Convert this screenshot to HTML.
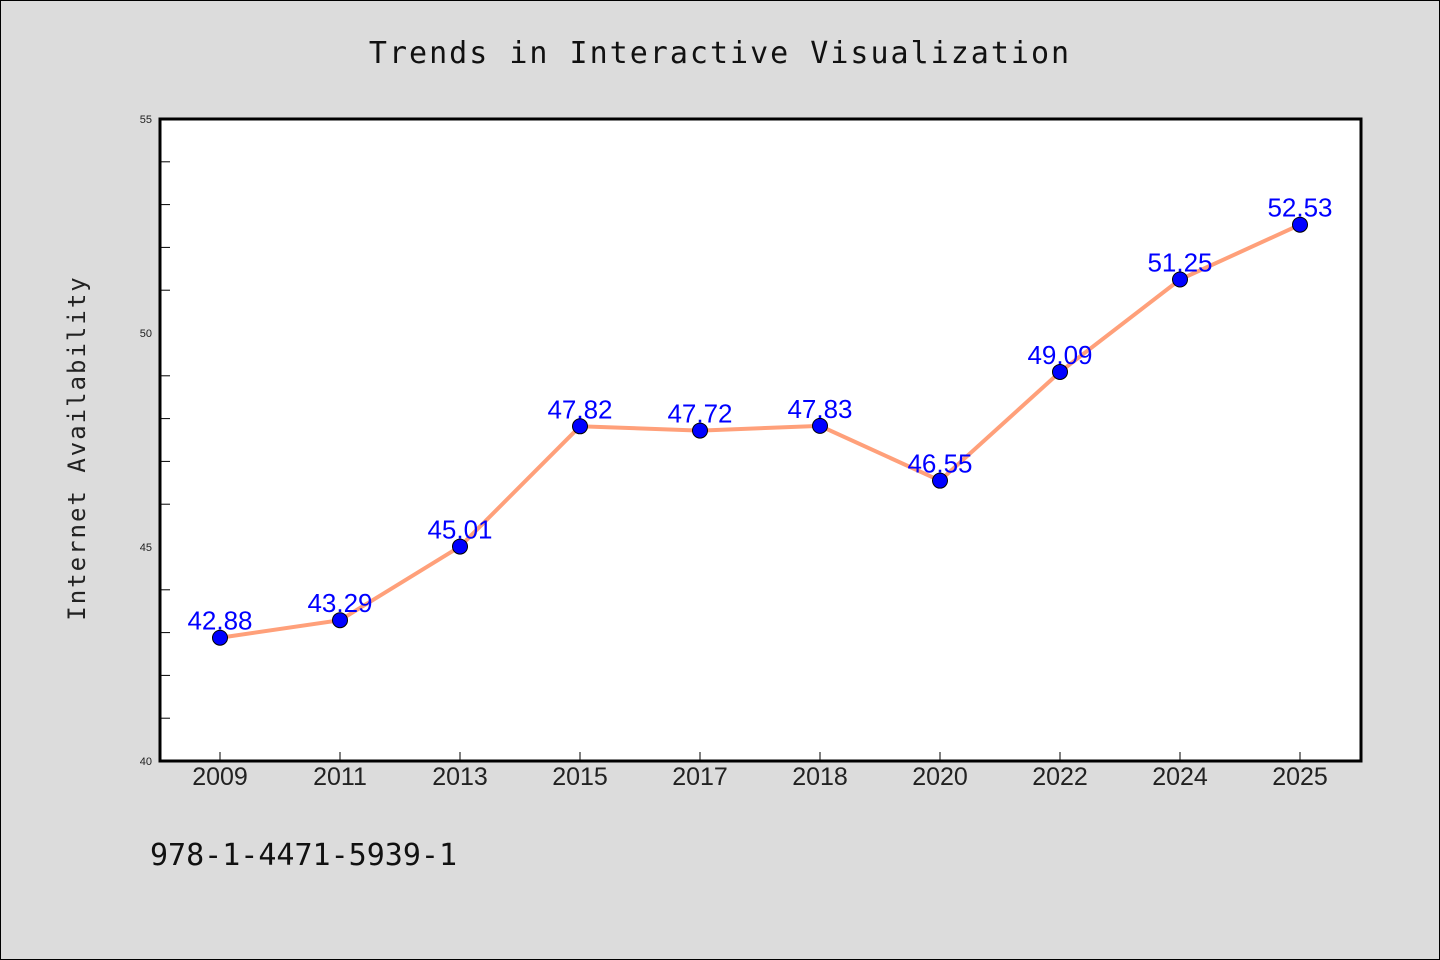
<!DOCTYPE html>
<html><head><meta charset="utf-8"><style>
body{margin:0;background:#dcdcdc}
svg{display:block;font-family:"Liberation Sans","DejaVu Sans",sans-serif}
</style></head><body>
<svg width="1440" height="960" viewBox="0 0 1440 960">
<rect x="0.5" y="0.5" width="1439" height="959" fill="#dcdcdc" stroke="#000"/>
<text x="720" y="63" text-anchor="middle" font-size="30" letter-spacing="2" font-family="DejaVu Sans Mono, monospace" fill="#111">Trends in Interactive Visualization</text>
<rect x="160" y="119" width="1201" height="642" fill="#fff"/>
<g id="ticks"></g>
<g id="series"></g>
<rect x="160" y="119" width="1201" height="642" fill="none" stroke="#000" stroke-width="3"/>
<text transform="translate(85,448) rotate(-90)" text-anchor="middle" font-size="24" letter-spacing="2" font-family="DejaVu Sans Mono, monospace" fill="#222">Internet Availability</text>
<text x="150" y="865" font-size="30" fill="#111" font-family="DejaVu Sans Mono, monospace">978-1-4471-5939-1</text>
</svg>
<script>
const categories=["2009","2011","2013","2015","2017","2018","2020","2022","2024","2025"];
const values=[42.88,43.29,45.01,47.82,47.72,47.83,46.55,49.09,51.25,52.53];
const yTickLabels=[40,45,50,55];
const NS="http://www.w3.org/2000/svg";
const x=i=>220+i*120;
const y=v=>761-(v-40)*(642/15);
function mk(t,a,p){const e=document.createElementNS(NS,t);for(const k in a)e.setAttribute(k,a[k]);p.appendChild(e);return e;}
const tg=document.getElementById('ticks'),sg=document.getElementById('series');
for(let v=41;v<55;v++){if(v%5===0)continue;
 const t=mk('line',{x1:160,x2:170,y1:y(v),y2:y(v),stroke:'#000','stroke-width':1},tg);
 
 }
yTickLabels.forEach(v=>{
 const t=mk('text',{x:152,y:y(v)+4,'text-anchor':'end','font-size':11,fill:'#222'},tg);t.textContent=v;
 
 });
categories.forEach((c,i)=>{
 const l=mk('line',{x1:x(i),x2:x(i),y1:752,y2:761,stroke:'#000'},tg);
 
 
 const t=mk('text',{x:x(i),y:785,'text-anchor':'middle','font-size':25,fill:'#222'},tg);t.textContent=c;
 
 });
const line=mk('polyline',{points:values.map((v,i)=>x(i)+','+y(v)).join(' '),fill:'none',stroke:'#ffa07a','stroke-width':4},sg);


values.forEach((v,i)=>{
 const c=mk('circle',{cx:x(i),cy:y(v),r:7.5,fill:'#0000ff',stroke:'#000','stroke-width':1},sg);
 
 
 const t=mk('text',{x:x(i),y:y(v)-8,'text-anchor':'middle','font-size':26,fill:'#0000ff'},sg);t.textContent=v.toFixed(2);
 
 });
</script>
</body></html>
